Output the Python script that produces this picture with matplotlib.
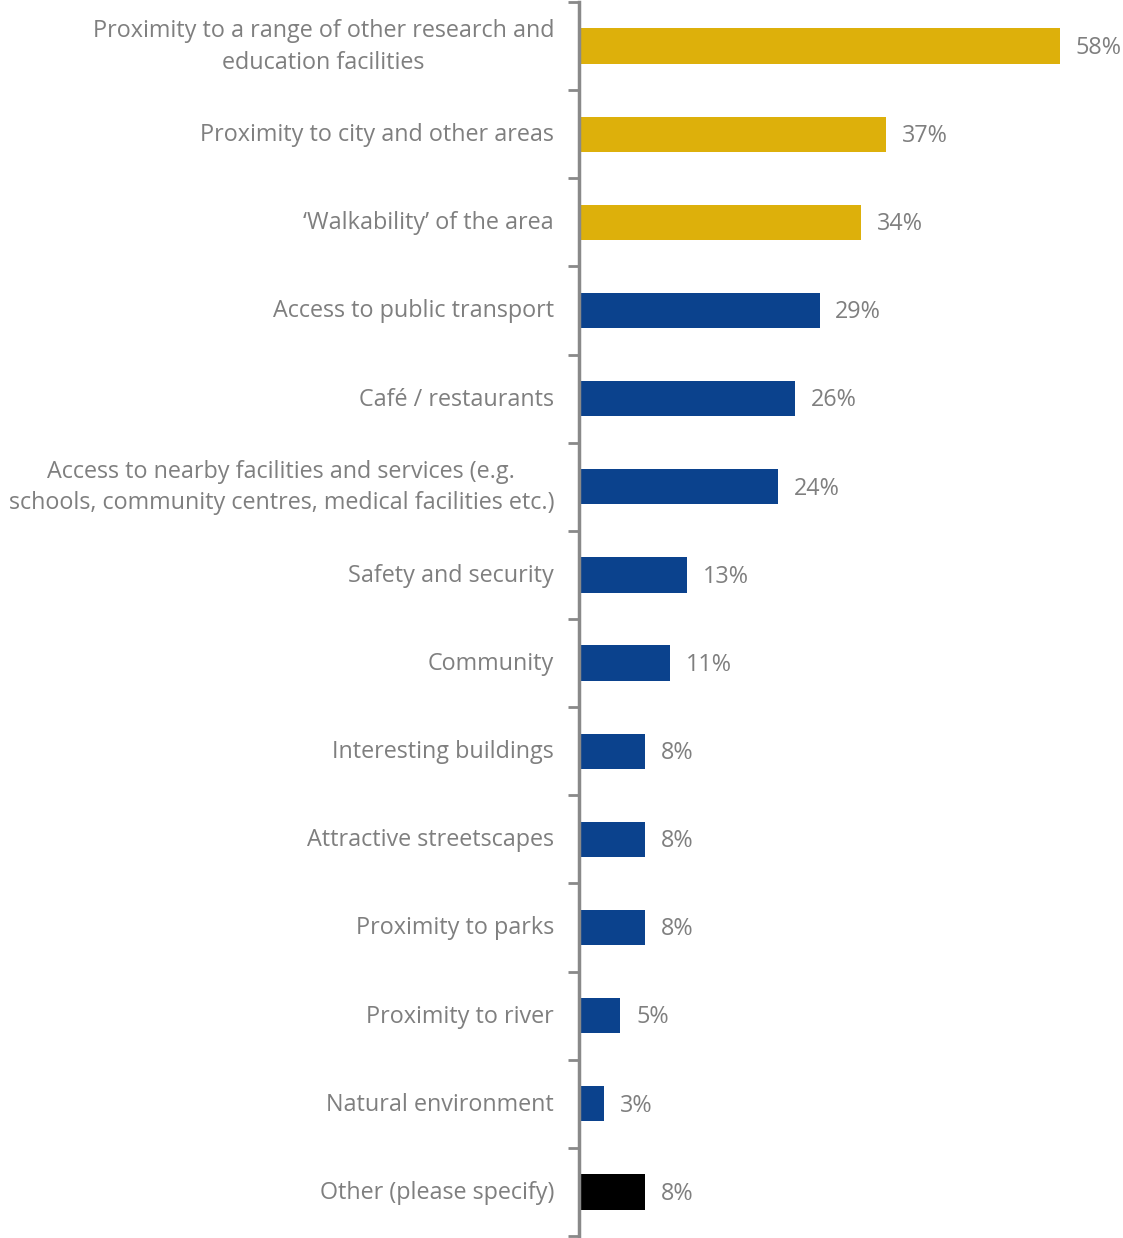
import matplotlib.pyplot as plt
import matplotlib.transforms as mtransforms
import numpy as np

# Survey responses, top to bottom
labels = [
    "Proximity to a range of other research and\neducation facilities",
    "Proximity to city and other areas",
    "\u2018Walkability\u2019 of the area",
    "Access to public transport",
    "Caf\u00e9 / restaurants",
    "Access to nearby facilities and services (e.g.\nschools, community centres, medical facilities etc.)",
    "Safety and security",
    "Community",
    "Interesting buildings",
    "Attractive streetscapes",
    "Proximity to parks",
    "Proximity to river",
    "Natural environment",
    "Other (please specify)",
]
values = [58, 37, 34, 29, 26, 24, 13, 11, 8, 8, 8, 5, 3, 8]
groups = ["top"] * 3 + ["main"] * 10 + ["other"]

GROUP_COLORS = {"top": "#DDB00B", "main": "#0B428D", "other": "#000000"}
TEXT_COLOR = "#7F7F7F"
AXIS_COLOR = "#898989"
FONT_SIZE = 16.8

plt.rcParams["font.family"] = ["Open Sans", "DejaVu Sans"]

fig = plt.figure(figsize=(11.23, 12.38), dpi=100)
ax = fig.add_axes([0.5156, 0.0016, 0.48, 0.9968])

y = np.arange(len(labels))
colors = [GROUP_COLORS[g] for g in groups]
bars = ax.barh(y, values, height=0.4, color=colors)

for bar, v in zip(bars, values):
    ax.text(bar.get_width() + 1.9, bar.get_y() + bar.get_height() / 2 + 0.02,
            f"{v}%", va="center", ha="left", fontsize=FONT_SIZE, color=TEXT_COLOR)

ax.set_xlim(0, 65)
ax.set_ylim(len(labels) - 0.5, -0.5)

# category labels, right-aligned left of the axis; two-line ones centred
ax.set_yticks(y)
ax.set_yticklabels([])
ax.tick_params(axis="y", which="major", length=0)
label_trans = ax.get_yaxis_transform() + mtransforms.ScaledTranslation(
    -0.25, 0, fig.dpi_scale_trans)
for yi, lab in zip(y, labels):
    two_lines = "\n" in lab
    ax.text(0, yi + (0.01 if two_lines else 0.01), lab, transform=label_trans,
            ha="right", va="center", multialignment="center",
            fontsize=FONT_SIZE, color=TEXT_COLOR, linespacing=1.42)

# category separators drawn as minor ticks
ax.set_yticks(np.arange(-0.5, len(labels)), minor=True)
ax.tick_params(axis="y", which="minor", length=8, width=2, color=AXIS_COLOR)

ax.xaxis.set_visible(False)
for side in ["top", "right", "bottom"]:
    ax.spines[side].set_visible(False)
ax.spines["left"].set_color(AXIS_COLOR)
ax.spines["left"].set_linewidth(2.5)

fig.savefig("out.png", dpi=100)
